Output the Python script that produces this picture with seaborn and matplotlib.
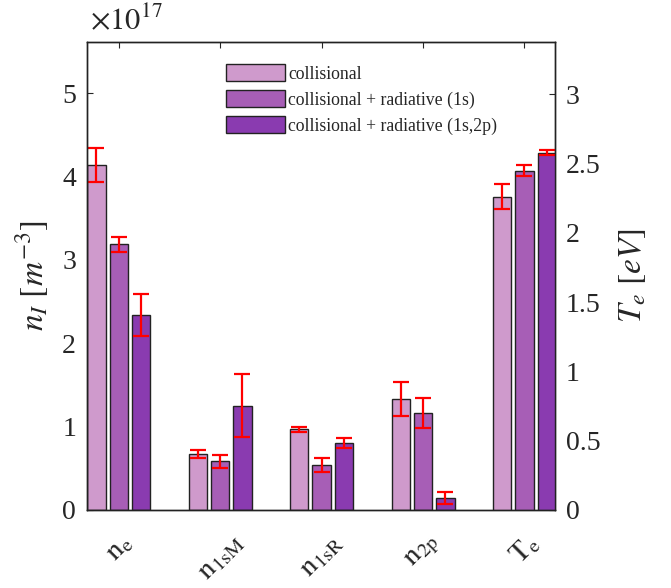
import numpy as np
import pandas as pd
import matplotlib
matplotlib.use("Agg")
import matplotlib.pyplot as plt
import seaborn as sns

# categories and model names
cats = ["n_e", "n_1sM", "n_1sR", "n_2p", "T_e"]
cat_labels = [r"$\mathrm{n_{e}}$", r"$\mathrm{n_{1sM}}$", r"$\mathrm{n_{1sR}}$",
              r"$\mathrm{n_{2p}}$", r"$\mathrm{T_{e}}$"]
models = ["collisional", "collisional + radiative (1s)", "collisional + radiative (1s,2p)"]
colors = ["#CF9ACC", "#A75EB6", "#8A3BB0"]

# densities in units of 1e17 m^-3 (n_e, n_1sM, n_1sR, n_2p), T_e in eV
val_coll = [4.14, 0.67, 0.97, 1.33, 2.26]
val_1s = [3.19, 0.58, 0.54, 1.16, 2.45]
val_1s2p = [2.34, 1.25, 0.80, 0.14, 2.58]
err_coll = [0.20, 0.05, 0.03, 0.20, 0.09]
err_1s = [0.09, 0.08, 0.085, 0.18, 0.04]
err_1s2p = [0.25, 0.38, 0.06, 0.07, 0.02]

rows = []
for m, v, e in zip(models, [val_coll, val_1s, val_1s2p], [err_coll, err_1s, err_1s2p]):
    for c, vi, ei in zip(cats, v, e):
        rows.append({"cat": c, "model": m, "value": vi, "err": ei})
df = pd.DataFrame(rows)

sns.set_style("ticks")
plt.rcParams['font.family'] = ['Liberation Serif', 'DejaVu Serif']
plt.rcParams['mathtext.fontset'] = 'stix'

fig = plt.figure(figsize=(6.71, 5.88), dpi=100)
ax1 = fig.add_axes([0.130, 0.133, 0.697, 0.796])
ax2 = ax1.twinx()

dens = df[df["cat"] != "T_e"]
temp = df[df["cat"] == "T_e"]

bar_kw = dict(x="cat", y="value", hue="model", order=cats, hue_order=models,
              palette=colors, saturation=1, errorbar=None, width=0.66, gap=0.18,
              edgecolor="#222222", linewidth=1.0)
sns.barplot(data=dens, ax=ax1, **bar_kw)
sns.barplot(data=temp, ax=ax2, legend=False, **bar_kw)

# error bars at bar centres
for ax, sub in [(ax1, dens), (ax2, temp)]:
    for cont, m in zip(ax.containers, models):
        errs = sub[sub["model"] == m]["err"].values
        for p, e in zip(cont.patches, errs):
            ax.errorbar(p.get_x() + p.get_width() / 2, p.get_height(), yerr=e,
                        fmt="none", ecolor="red", elinewidth=1.6, capsize=5.5, capthick=1.6)

ax1.set_xlim(-0.31, 4.30)
ax1.set_ylim(0, 5.62)
ax2.set_ylim(0, 3.38)
ax1.set_yticks([0, 1, 2, 3, 4, 5])
ax2.set_yticks([0, 0.5, 1, 1.5, 2, 2.5, 3])
ax2.set_yticklabels(["0", "0.5", "1", "1.5", "2", "2.5", "3"])
ax1.set_xticks(range(5))
ax1.set_xticklabels(cat_labels, rotation=45, ha="center", va="top", fontsize=21)
ax1.tick_params(axis="x", direction="in", top=True, length=4, pad=14)
ax1.tick_params(axis="y", direction="in", labelsize=20, length=4, pad=8)
ax2.tick_params(axis="y", direction="in", labelsize=20, length=4, pad=8)
ax1.set_xlabel("")
ax2.set_xlabel("")
ax1.set_ylabel(r"$n_I\ [m^{-3}]$", fontsize=24, labelpad=8)
ax2.set_ylabel(r"$T_e\ [eV]$", fontsize=24, labelpad=12)
for ax in (ax1, ax2):
    for s in ax.spines.values():
        s.set_visible(True)
        s.set_color("#222222")
        s.set_linewidth(1.0)

ax1.text(0.006, 1.012, r"$\times 10^{17}$", transform=ax1.transAxes, fontsize=22,
         ha="left", va="bottom")

# legend
old = ax1.get_legend()
handles = old.legend_handles
labels = [t.get_text() for t in old.get_texts()]
old.remove()
ax1.legend(handles, labels, loc="upper left", bbox_to_anchor=(0.297, 0.952),
           frameon=False, fontsize=12.8, handlelength=3.3, handleheight=1.1,
           handletextpad=0.2, labelspacing=0.42, borderpad=0, borderaxespad=0)

fig.savefig("out.png", dpi=100)
